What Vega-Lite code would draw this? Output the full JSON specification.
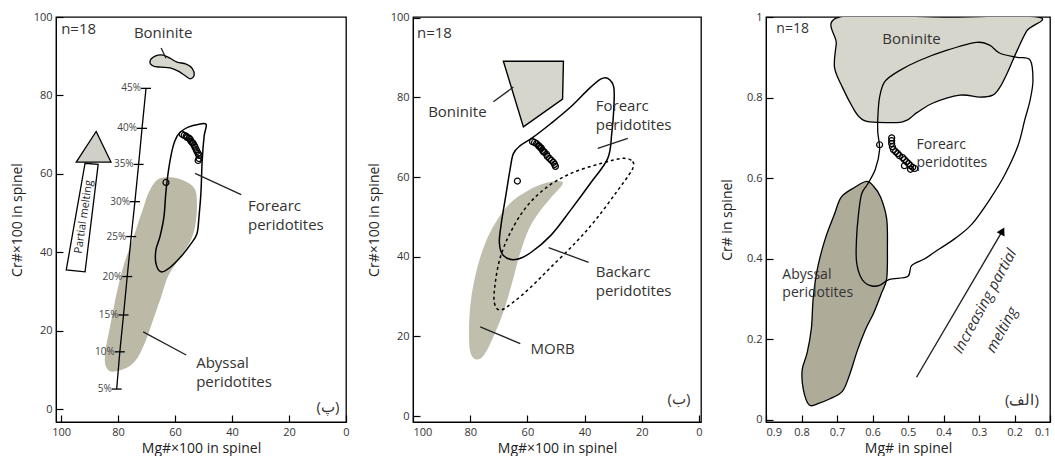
{
"$schema": "https://vega.github.io/schema/vega-lite/v6.json",
"padding": {"left": 9, "top": 10, "right": 0, "bottom": 0},
"background": "white",
"config": {
  "view": {"stroke": "black", "strokeWidth": 1.3},
  "axis": {"grid": false, "domainColor": "black", "tickColor": "black", "tickSize": -7, "tickWidth": 1.2, "labelPadding": 11, "labelFont": "Open Sans", "labelFontSize": 11, "labelColor": "#333", "titleFont": "Open Sans", "titleFontSize": 14, "titleFontWeight": "normal", "titleColor": "#222", "labelFlush": false},
  "axisY": {"minExtent": 24, "maxExtent": 24, "titlePadding": 8},
  "axisX": {"titlePadding": 4},
  "text": {"font": "Open Sans", "color": "#333"},
  "concat": {"spacing": 16}
},
"datasets": {
  "p1_aby": [{"i":0,"x":66.0,"y":58.6},{"i":1,"x":61.4,"y":59.1},{"i":2,"x":56.5,"y":58.1},{"i":3,"x":53.0,"y":56.0},{"i":4,"x":52.3,"y":51.7},{"i":5,"x":53.0,"y":46.5},{"i":6,"x":54.7,"y":42.7},{"i":7,"x":58.9,"y":38.1},{"i":8,"x":62.5,"y":33.8},{"i":9,"x":64.9,"y":28.6},{"i":10,"x":67.7,"y":22.8},{"i":11,"x":70.2,"y":17.6},{"i":12,"x":73.0,"y":13.3},{"i":13,"x":76.5,"y":10.7},{"i":14,"x":81.8,"y":9.5},{"i":15,"x":84.2,"y":10.7},{"i":16,"x":84.6,"y":14.1},{"i":17,"x":83.2,"y":19.7},{"i":18,"x":81.8,"y":24.8},{"i":19,"x":80.4,"y":29.9},{"i":20,"x":78.2,"y":36.3},{"i":21,"x":75.8,"y":41.4},{"i":22,"x":73.7,"y":45.8},{"i":23,"x":71.2,"y":51.2},{"i":24,"x":69.1,"y":55.5}],
  "p1_fa": [{"i":0,"x":57.9,"y":70.8},{"i":1,"x":55.4,"y":71.9},{"i":2,"x":51.9,"y":72.6},{"i":3,"x":49.1,"y":72.6},{"i":4,"x":49.8,"y":69.6},{"i":5,"x":50.5,"y":63.2},{"i":6,"x":50.9,"y":55.5},{"i":7,"x":51.6,"y":49.1},{"i":8,"x":52.3,"y":44.8},{"i":9,"x":54.4,"y":42.2},{"i":10,"x":57.9,"y":38.9},{"i":11,"x":61.8,"y":36.1},{"i":12,"x":64.9,"y":35.0},{"i":13,"x":66.7,"y":37.1},{"i":14,"x":66.7,"y":40.7},{"i":15,"x":65.3,"y":44.0},{"i":16,"x":63.9,"y":49.1},{"i":17,"x":63.2,"y":55.5},{"i":18,"x":62.1,"y":61.9},{"i":19,"x":60.7,"y":67.0},{"i":20,"x":59.3,"y":69.6}],
  "p1_bon": [{"i":0,"x":68.8,"y":88.7},{"i":1,"x":67.0,"y":90.0},{"i":2,"x":64.2,"y":90.3},{"i":3,"x":61.8,"y":89.5},{"i":4,"x":59.3,"y":88.5},{"i":5,"x":56.1,"y":88.0},{"i":6,"x":54.0,"y":86.9},{"i":7,"x":53.3,"y":85.2},{"i":8,"x":54.7,"y":84.2},{"i":9,"x":56.8,"y":85.2},{"i":10,"x":58.9,"y":86.2},{"i":11,"x":61.8,"y":87.0},{"i":12,"x":64.9,"y":87.2},{"i":13,"x":67.7,"y":87.5}],
  "p1_shaft": [{"i":0,"x":87.0,"y":62.4},{"i":1,"x":91.6,"y":35.0},{"i":2,"x":98.2,"y":35.5},{"i":3,"x":91.6,"y":62.7}],
  "p1_head": [{"i":0,"x":87.7,"y":70.8},{"i":1,"x":82.5,"y":63.0},{"i":2,"x":94.7,"y":63.0}],
  "p1_melt": [{"pct":"45%","x":70.2,"y":81.8},{"pct":"40%","x":71.6,"y":71.6},{"pct":"35%","x":72.8,"y":62.4},{"pct":"30%","x":74.1,"y":52.9},{"pct":"25%","x":75.4,"y":44.0},{"pct":"20%","x":76.8,"y":33.8},{"pct":"15%","x":78.1,"y":24.0},{"pct":"10%","x":79.4,"y":14.6},{"pct":"5%","x":80.5,"y":5.1}],
  "p1_pts": [{"x":63.2,"y":57.8},{"x":57.5,"y":70.1},{"x":56.8,"y":69.8},{"x":56.1,"y":69.6},{"x":55.8,"y":69.3},{"x":55.1,"y":69.1},{"x":54.7,"y":68.8},{"x":54.4,"y":68.3},{"x":54.0,"y":68.0},{"x":53.7,"y":67.8},{"x":53.3,"y":67.3},{"x":53.0,"y":66.8},{"x":52.6,"y":66.2},{"x":52.3,"y":65.7},{"x":51.9,"y":65.2},{"x":51.6,"y":64.7},{"x":51.6,"y":63.9},{"x":51.9,"y":63.4}],
  "p1_rules": [{"x":64.9,"y":92.1,"x2":63.2,"y2":89.5},{"x":53.0,"y":60.1,"x2":36.8,"y2":54.7},{"x":71.2,"y":19.7,"x2":56.1,"y2":13.8}],
  "p1_left": [{"t":"Forearc\nperidotites","x":34.4,"y":51.7},{"t":"Abyssal\nperidotites","x":52.6,"y":11.8},{"t":"n=18","x":100.0,"y":97.0}],
  "p1_center": [{"t":"Boninite","x":64.2,"y":96.0},{"t":"(پ)","x":6.3,"y":0.5}],
  "p1_pm": [{"t":"Partial melting","x":92.0,"y":49.0}],

  "p2_morb": [{"i":0,"x":53.7,"y":58.5},{"i":1,"x":49.1,"y":59.0},{"i":2,"x":47.7,"y":58.2},{"i":3,"x":51.9,"y":54.7},{"i":4,"x":56.1,"y":51.0},{"i":5,"x":59.6,"y":46.8},{"i":6,"x":62.5,"y":41.0},{"i":7,"x":65.3,"y":33.6},{"i":8,"x":68.4,"y":26.1},{"i":9,"x":71.9,"y":19.9},{"i":10,"x":75.1,"y":15.4},{"i":11,"x":77.9,"y":14.2},{"i":12,"x":80.0,"y":16.2},{"i":13,"x":80.4,"y":22.4},{"i":14,"x":79.6,"y":29.9},{"i":15,"x":77.5,"y":37.3},{"i":16,"x":74.7,"y":43.5},{"i":17,"x":71.2,"y":48.5},{"i":18,"x":66.0,"y":53.5},{"i":19,"x":59.6,"y":56.7}],
  "p2_bon": [{"i":0,"x":68.4,"y":89.1},{"i":1,"x":47.4,"y":89.1},{"i":2,"x":47.7,"y":79.6},{"i":3,"x":61.4,"y":72.6}],
  "p2_fa": [{"i":0,"x":34.4,"y":84.6},{"i":1,"x":31.9,"y":84.8},{"i":2,"x":29.8,"y":82.6},{"i":3,"x":29.8,"y":77.1},{"i":4,"x":30.5,"y":71.0},{"i":5,"x":31.9,"y":64.7},{"i":6,"x":37.9,"y":58.5},{"i":7,"x":44.9,"y":51.7},{"i":8,"x":51.9,"y":45.3},{"i":9,"x":58.9,"y":41.0},{"i":10,"x":64.2,"y":39.3},{"i":11,"x":68.4,"y":40.3},{"i":12,"x":69.8,"y":43.5},{"i":13,"x":69.1,"y":48.5},{"i":14,"x":67.7,"y":54.7},{"i":15,"x":66.0,"y":62.2},{"i":16,"x":64.9,"y":65.9},{"i":17,"x":62.5,"y":67.9},{"i":18,"x":58.2,"y":69.9},{"i":19,"x":51.9,"y":73.4},{"i":20,"x":44.9,"y":77.6},{"i":21,"x":38.6,"y":82.1}],
  "p2_ba": [{"i":0,"x":26.7,"y":64.7},{"i":1,"x":23.2,"y":63.9},{"i":2,"x":23.5,"y":61.7},{"i":3,"x":29.1,"y":56.0},{"i":4,"x":36.1,"y":49.3},{"i":5,"x":43.2,"y":43.5},{"i":6,"x":51.9,"y":37.3},{"i":7,"x":58.9,"y":32.3},{"i":8,"x":64.9,"y":28.6},{"i":9,"x":69.5,"y":26.6},{"i":10,"x":71.6,"y":28.6},{"i":11,"x":71.2,"y":33.6},{"i":12,"x":69.5,"y":39.8},{"i":13,"x":66.0,"y":46.0},{"i":14,"x":60.7,"y":52.2},{"i":15,"x":53.7,"y":57.2},{"i":16,"x":44.9,"y":60.9},{"i":17,"x":34.4,"y":63.4}],
  "p2_pts": [{"x":63.5,"y":59.0},{"x":58.2,"y":68.9},{"x":57.5,"y":68.7},{"x":56.8,"y":68.4},{"x":56.1,"y":67.9},{"x":55.8,"y":67.7},{"x":55.4,"y":67.4},{"x":55.1,"y":67.2},{"x":54.7,"y":66.7},{"x":54.4,"y":66.4},{"x":54.0,"y":66.2},{"x":53.3,"y":65.7},{"x":53.0,"y":65.2},{"x":52.3,"y":64.7},{"x":51.6,"y":64.2},{"x":50.9,"y":63.7},{"x":50.5,"y":63.2},{"x":50.2,"y":62.7}],
  "p2_rules": [{"x":71.9,"y":78.9,"x2":64.9,"y2":82.6},{"x":35.4,"y":67.2,"x2":24.9,"y2":69.7},{"x":52.6,"y":42.3,"x2":38.6,"y2":38.6},{"x":76.5,"y":22.4,"x2":62.5,"y2":18.2}],
  "p2_left": [{"t":"Boninite","x":94.7,"y":76.4},{"t":"Forearc\nperidotites","x":36.1,"y":77.9},{"t":"Backarc\nperidotites","x":36.1,"y":36.1},{"t":"MORB","x":58.9,"y":16.9},{"t":"n=18","x":98.6,"y":96.3}],
  "p2_center": [{"t":"(ب)","x":7.0,"y":4.2}],

  "p3_bon": [{"i":0,"x":0.693,"y":1.0},{"i":1,"x":0.702,"y":0.934},{"i":2,"x":0.707,"y":0.875},{"i":3,"x":0.685,"y":0.826},{"i":4,"x":0.656,"y":0.776},{"i":5,"x":0.637,"y":0.752},{"i":6,"x":0.608,"y":0.740},{"i":7,"x":0.515,"y":0.740},{"i":8,"x":0.476,"y":0.762},{"i":9,"x":0.431,"y":0.786},{"i":10,"x":0.354,"y":0.806},{"i":11,"x":0.298,"y":0.801},{"i":12,"x":0.261,"y":0.806},{"i":13,"x":0.241,"y":0.826},{"i":14,"x":0.221,"y":0.860},{"i":15,"x":0.193,"y":0.916},{"i":16,"x":0.165,"y":0.966},{"i":17,"x":0.134,"y":1.0},{"i":18,"x":0.4,"y":1.0}],
  "p3_aby": [{"i":0,"x":0.617,"y":0.592},{"i":1,"x":0.651,"y":0.577},{"i":2,"x":0.688,"y":0.553},{"i":3,"x":0.707,"y":0.511},{"i":4,"x":0.733,"y":0.450},{"i":5,"x":0.755,"y":0.376},{"i":6,"x":0.767,"y":0.302},{"i":7,"x":0.772,"y":0.229},{"i":8,"x":0.784,"y":0.167},{"i":9,"x":0.798,"y":0.125},{"i":10,"x":0.795,"y":0.076},{"i":11,"x":0.778,"y":0.037},{"i":12,"x":0.750,"y":0.042},{"i":13,"x":0.721,"y":0.052},{"i":14,"x":0.685,"y":0.071},{"i":15,"x":0.665,"y":0.111},{"i":16,"x":0.642,"y":0.174},{"i":17,"x":0.620,"y":0.224},{"i":18,"x":0.597,"y":0.265},{"i":19,"x":0.575,"y":0.314},{"i":20,"x":0.560,"y":0.351},{"i":21,"x":0.558,"y":0.425},{"i":22,"x":0.560,"y":0.499},{"i":23,"x":0.577,"y":0.553},{"i":24,"x":0.597,"y":0.580}],
  "p3_fa": [{"i":0,"x":0.580,"y":0.801},{"i":1,"x":0.565,"y":0.840},{"i":2,"x":0.524,"y":0.867},{"i":3,"x":0.468,"y":0.892},{"i":4,"x":0.392,"y":0.917},{"i":5,"x":0.307,"y":0.937},{"i":6,"x":0.270,"y":0.930},{"i":7,"x":0.241,"y":0.910},{"i":8,"x":0.193,"y":0.900},{"i":9,"x":0.156,"y":0.893},{"i":10,"x":0.148,"y":0.843},{"i":11,"x":0.156,"y":0.794},{"i":12,"x":0.171,"y":0.745},{"i":13,"x":0.190,"y":0.681},{"i":14,"x":0.227,"y":0.609},{"i":15,"x":0.269,"y":0.548},{"i":16,"x":0.320,"y":0.486},{"i":17,"x":0.368,"y":0.450},{"i":18,"x":0.411,"y":0.425},{"i":19,"x":0.453,"y":0.400},{"i":20,"x":0.490,"y":0.383},{"i":21,"x":0.501,"y":0.356},{"i":22,"x":0.552,"y":0.349},{"i":23,"x":0.580,"y":0.334},{"i":24,"x":0.608,"y":0.334},{"i":25,"x":0.631,"y":0.351},{"i":26,"x":0.645,"y":0.393},{"i":27,"x":0.645,"y":0.450},{"i":28,"x":0.640,"y":0.506},{"i":29,"x":0.631,"y":0.560},{"i":30,"x":0.614,"y":0.585},{"i":31,"x":0.592,"y":0.622},{"i":32,"x":0.580,"y":0.671},{"i":33,"x":0.585,"y":0.713},{"i":34,"x":0.585,"y":0.750}],
  "p3_pts": [{"x":0.580,"y":0.683},{"x":0.546,"y":0.700},{"x":0.546,"y":0.693},{"x":0.546,"y":0.686},{"x":0.544,"y":0.678},{"x":0.541,"y":0.671},{"x":0.535,"y":0.666},{"x":0.529,"y":0.661},{"x":0.524,"y":0.656},{"x":0.515,"y":0.651},{"x":0.510,"y":0.646},{"x":0.504,"y":0.641},{"x":0.498,"y":0.636},{"x":0.493,"y":0.631},{"x":0.487,"y":0.627},{"x":0.481,"y":0.624},{"x":0.493,"y":0.622},{"x":0.510,"y":0.631}],
  "p3_arrow": [{"x":0.476,"y":0.106,"x2":0.236,"y2":0.466}],
  "p3_head": [{"x":0.234,"y":0.469}],
  "p3_left": [{"t":"Forearc\nperidotites","x":0.476,"y":0.683},{"t":"Abyssal\nperidotites","x":0.854,"y":0.359},{"t":"n=18","x":0.871,"y":0.970}],
  "p3_center": [{"t":"Boninite","x":0.490,"y":0.946},{"t":"(الف)","x":0.179,"y":0.049}],
  "p3_rot": [{"t":"Increasing partial","x":0.284,"y":0.295},{"t":"melting","x":0.236,"y":0.224}]
},
"hconcat": [
  {
    "width": 290, "height": 405,
    "encoding": {
      "x": {"field": "x", "type": "quantitative", "scale": {"domain": [0, 101.8], "reverse": true, "nice": false, "zero": false}, "axis": {"values": [100, 80, 60, 40, 20, 0], "title": "Mg#×100 in spinel"}},
      "y": {"field": "y", "type": "quantitative", "scale": {"domain": [-3.3, 100], "nice": false, "zero": false}, "axis": {"values": [0, 20, 40, 60, 80, 100], "title": "Cr#×100 in spinel"}}
    },
    "layer": [
      {"data": {"name": "p1_aby"}, "mark": {"type": "line", "interpolate": "cardinal-closed", "fill": "#bcbaa7", "strokeWidth": 0}, "encoding": {"order": {"field": "i"}}},
      {"data": {"name": "p1_bon"}, "mark": {"type": "line", "interpolate": "cardinal-closed", "fill": "#d6d6cc", "stroke": "black", "strokeWidth": 1.3}, "encoding": {"order": {"field": "i"}}},
      {"data": {"name": "p1_fa"}, "mark": {"type": "line", "interpolate": "cardinal-closed", "stroke": "black", "strokeWidth": 1.5}, "encoding": {"order": {"field": "i"}}},
      {"data": {"name": "p1_shaft"}, "mark": {"type": "line", "interpolate": "linear-closed", "fill": "white", "stroke": "black", "strokeWidth": 1.3}, "encoding": {"order": {"field": "i"}}},
      {"data": {"name": "p1_head"}, "mark": {"type": "line", "interpolate": "linear-closed", "fill": "#d0d0c8", "stroke": "black", "strokeWidth": 1.3}, "encoding": {"order": {"field": "i"}}},
      {"data": {"name": "p1_melt"}, "mark": {"type": "line", "stroke": "black", "strokeWidth": 1.3}, "encoding": {"order": {"field": "y"}}},
      {"data": {"name": "p1_melt"}, "mark": {"type": "point", "shape": "M-1,0L1,0", "size": 100, "filled": false, "stroke": "black", "strokeWidth": 1.3, "opacity": 1}, "encoding": {}},
      {"data": {"name": "p1_melt"}, "mark": {"type": "text", "align": "right", "baseline": "middle", "dx": -5, "fontSize": 10, "color": "#444"}, "encoding": {"text": {"field": "pct"}}},
      {"data": {"name": "p1_rules"}, "mark": {"type": "rule", "stroke": "#222", "strokeWidth": 1.3}, "encoding": {"x2": {"field": "x2"}, "y2": {"field": "y2"}}},
      {"data": {"name": "p1_left"}, "mark": {"type": "text", "align": "left", "baseline": "middle", "fontSize": 15, "lineBreak": "\n", "lineHeight": 19, "color": "#333"}, "encoding": {"text": {"field": "t"}}},
      {"data": {"name": "p1_center"}, "mark": {"type": "text", "align": "center", "baseline": "middle", "fontSize": 15, "color": "#333"}, "encoding": {"text": {"field": "t"}}},
      {"data": {"name": "p1_pm"}, "mark": {"type": "text", "align": "center", "baseline": "middle", "fontSize": 11, "angle": -81.5, "color": "#222"}, "encoding": {"text": {"field": "t"}}},
      {"data": {"name": "p1_pts"}, "mark": {"type": "point", "shape": "circle", "size": 36, "filled": false, "stroke": "black", "strokeWidth": 1.2, "opacity": 1}, "encoding": {}}
    ]
  },
  {
    "width": 288, "height": 405,
    "encoding": {
      "x": {"field": "x", "type": "quantitative", "scale": {"domain": [-0.7, 100], "reverse": true, "nice": false, "zero": false}, "axis": {"values": [100, 80, 60, 40, 20, 0], "title": "Mg#×100 in spinel", "labelFlush": true}},
      "y": {"field": "y", "type": "quantitative", "scale": {"domain": [-1.5, 100.2], "nice": false, "zero": false}, "axis": {"values": [0, 20, 40, 60, 80, 100], "title": "Cr#×100 in spinel"}}
    },
    "layer": [
      {"data": {"name": "p2_morb"}, "mark": {"type": "line", "interpolate": "cardinal-closed", "fill": "#c0bfad", "strokeWidth": 0}, "encoding": {"order": {"field": "i"}}},
      {"data": {"name": "p2_bon"}, "mark": {"type": "line", "interpolate": "linear-closed", "fill": "#d6d6cc", "stroke": "black", "strokeWidth": 1.4}, "encoding": {"order": {"field": "i"}}},
      {"data": {"name": "p2_ba"}, "mark": {"type": "line", "interpolate": "cardinal-closed", "stroke": "black", "strokeWidth": 1.5, "strokeDash": [3, 3]}, "encoding": {"order": {"field": "i"}}},
      {"data": {"name": "p2_fa"}, "mark": {"type": "line", "interpolate": "cardinal-closed", "stroke": "black", "strokeWidth": 1.5}, "encoding": {"order": {"field": "i"}}},
      {"data": {"name": "p2_rules"}, "mark": {"type": "rule", "stroke": "#222", "strokeWidth": 1.3}, "encoding": {"x2": {"field": "x2"}, "y2": {"field": "y2"}}},
      {"data": {"name": "p2_left"}, "mark": {"type": "text", "align": "left", "baseline": "middle", "fontSize": 15, "lineBreak": "\n", "lineHeight": 19, "color": "#333"}, "encoding": {"text": {"field": "t"}}},
      {"data": {"name": "p2_center"}, "mark": {"type": "text", "align": "center", "baseline": "middle", "fontSize": 15, "color": "#333"}, "encoding": {"text": {"field": "t"}}},
      {"data": {"name": "p2_pts"}, "mark": {"type": "point", "shape": "circle", "size": 36, "filled": false, "stroke": "black", "strokeWidth": 1.2, "opacity": 1}, "encoding": {}}
    ]
  },
  {
    "width": 284, "height": 405,
    "encoding": {
      "x": {"field": "x", "type": "quantitative", "scale": {"domain": [0.1, 0.9], "reverse": true, "nice": false, "zero": false}, "axis": {"values": [0.9, 0.8, 0.7, 0.6, 0.5, 0.4, 0.3, 0.2, 0.1], "format": ".1~f", "title": "Mg# in spinel", "labelFlush": true}},
      "y": {"field": "y", "type": "quantitative", "scale": {"domain": [-0.005, 1], "nice": false, "zero": false}, "axis": {"values": [0, 0.2, 0.4, 0.6, 0.8, 1], "format": ".1~f", "title": "Cr# in spinel"}}
    },
    "layer": [
      {"data": {"name": "p3_bon"}, "mark": {"type": "line", "interpolate": "cardinal-closed", "fill": "#d6d6cc", "stroke": "black", "strokeWidth": 1.3, "clip": true}, "encoding": {"order": {"field": "i"}}},
      {"data": {"name": "p3_aby"}, "mark": {"type": "line", "interpolate": "cardinal-closed", "fill": "#aeab98", "stroke": "black", "strokeWidth": 1.3}, "encoding": {"order": {"field": "i"}}},
      {"data": {"name": "p3_fa"}, "mark": {"type": "line", "interpolate": "cardinal-closed", "stroke": "black", "strokeWidth": 1.3}, "encoding": {"order": {"field": "i"}}},
      {"data": {"name": "p3_arrow"}, "mark": {"type": "rule", "stroke": "#222", "strokeWidth": 1.4}, "encoding": {"x2": {"field": "x2"}, "y2": {"field": "y2"}}},
      {"data": {"name": "p3_head"}, "mark": {"type": "point", "shape": "triangle-up", "angle": 28.5, "size": 80, "filled": true, "color": "black", "opacity": 1}, "encoding": {}},
      {"data": {"name": "p3_left"}, "mark": {"type": "text", "align": "left", "baseline": "middle", "fontSize": 14, "lineBreak": "\n", "lineHeight": 18, "color": "#333"}, "encoding": {"text": {"field": "t"}}},
      {"data": {"name": "p3_center"}, "mark": {"type": "text", "align": "center", "baseline": "middle", "fontSize": 15, "color": "#333"}, "encoding": {"text": {"field": "t"}}},
      {"data": {"name": "p3_rot"}, "mark": {"type": "text", "align": "center", "baseline": "middle", "fontSize": 15, "fontStyle": "italic", "angle": -61.5, "color": "#333"}, "encoding": {"text": {"field": "t"}}},
      {"data": {"name": "p3_pts"}, "mark": {"type": "point", "shape": "circle", "size": 36, "filled": false, "stroke": "black", "strokeWidth": 1.2, "opacity": 1}, "encoding": {}}
    ]
  }
]
}
